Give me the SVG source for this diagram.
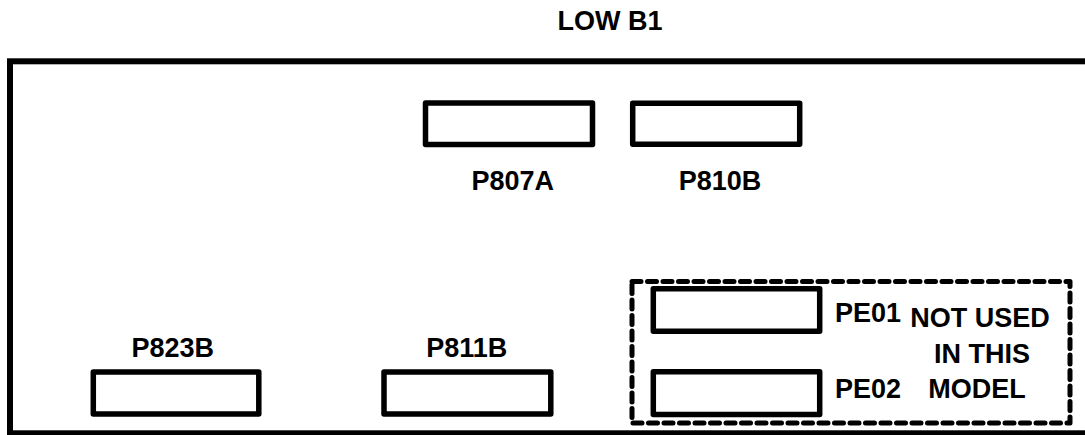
<svg xmlns="http://www.w3.org/2000/svg" width="1085" height="435" viewBox="0 0 1085 435">
<style>
.lbl{font-family:"Liberation Sans",Arial,sans-serif;font-size:27px;font-weight:bold;fill:#000}
.mid{text-anchor:middle}
.conn{fill:#fff;stroke:#000;stroke-width:5.5;stroke-linejoin:round}
</style>
<rect width="1085" height="435" fill="#fff"/>
<g id="board">
<rect x="10" y="61.3" width="1090" height="372" fill="none" stroke="#000" stroke-width="6"/>
<text class="lbl mid" x="610" y="30">LOW B1</text>
</g>
<g id="P807A">
<rect class="conn" x="425.5" y="103" width="167" height="41.5"/>
<text class="lbl mid" x="512.8" y="190">P807A</text>
</g>
<g id="P810B">
<rect class="conn" x="632.7" y="103.3" width="167" height="41"/>
<text class="lbl mid" x="720" y="190">P810B</text>
</g>
<g id="P823B">
<rect class="conn" x="93.3" y="372" width="165.5" height="42"/>
<text class="lbl mid" x="172.8" y="356.7">P823B</text>
</g>
<g id="P811B">
<rect class="conn" x="384" y="372" width="166.8" height="42"/>
<text class="lbl mid" x="466.7" y="356.7">P811B</text>
</g>
<g id="unused">
<rect x="632" y="281.5" width="438" height="141.5" fill="none" stroke="#000" stroke-width="5" stroke-dasharray="9 6.5" stroke-linecap="round" stroke-linejoin="round"/>
<text class="lbl mid" x="980" y="326.7">NOT USED</text>
<text class="lbl mid" x="982" y="363.3">IN THIS</text>
<text class="lbl mid" x="977" y="398.3">MODEL</text>
</g>
<g id="PE01">
<rect class="conn" x="653.3" y="288.8" width="166.4" height="42.4"/>
<text class="lbl" x="835" y="321.7">PE01</text>
</g>
<g id="PE02">
<rect class="conn" x="653.3" y="371.7" width="166.4" height="42.8"/>
<text class="lbl" x="835" y="398.3">PE02</text>
</g>
<g id="connectors"></g>
</svg>
